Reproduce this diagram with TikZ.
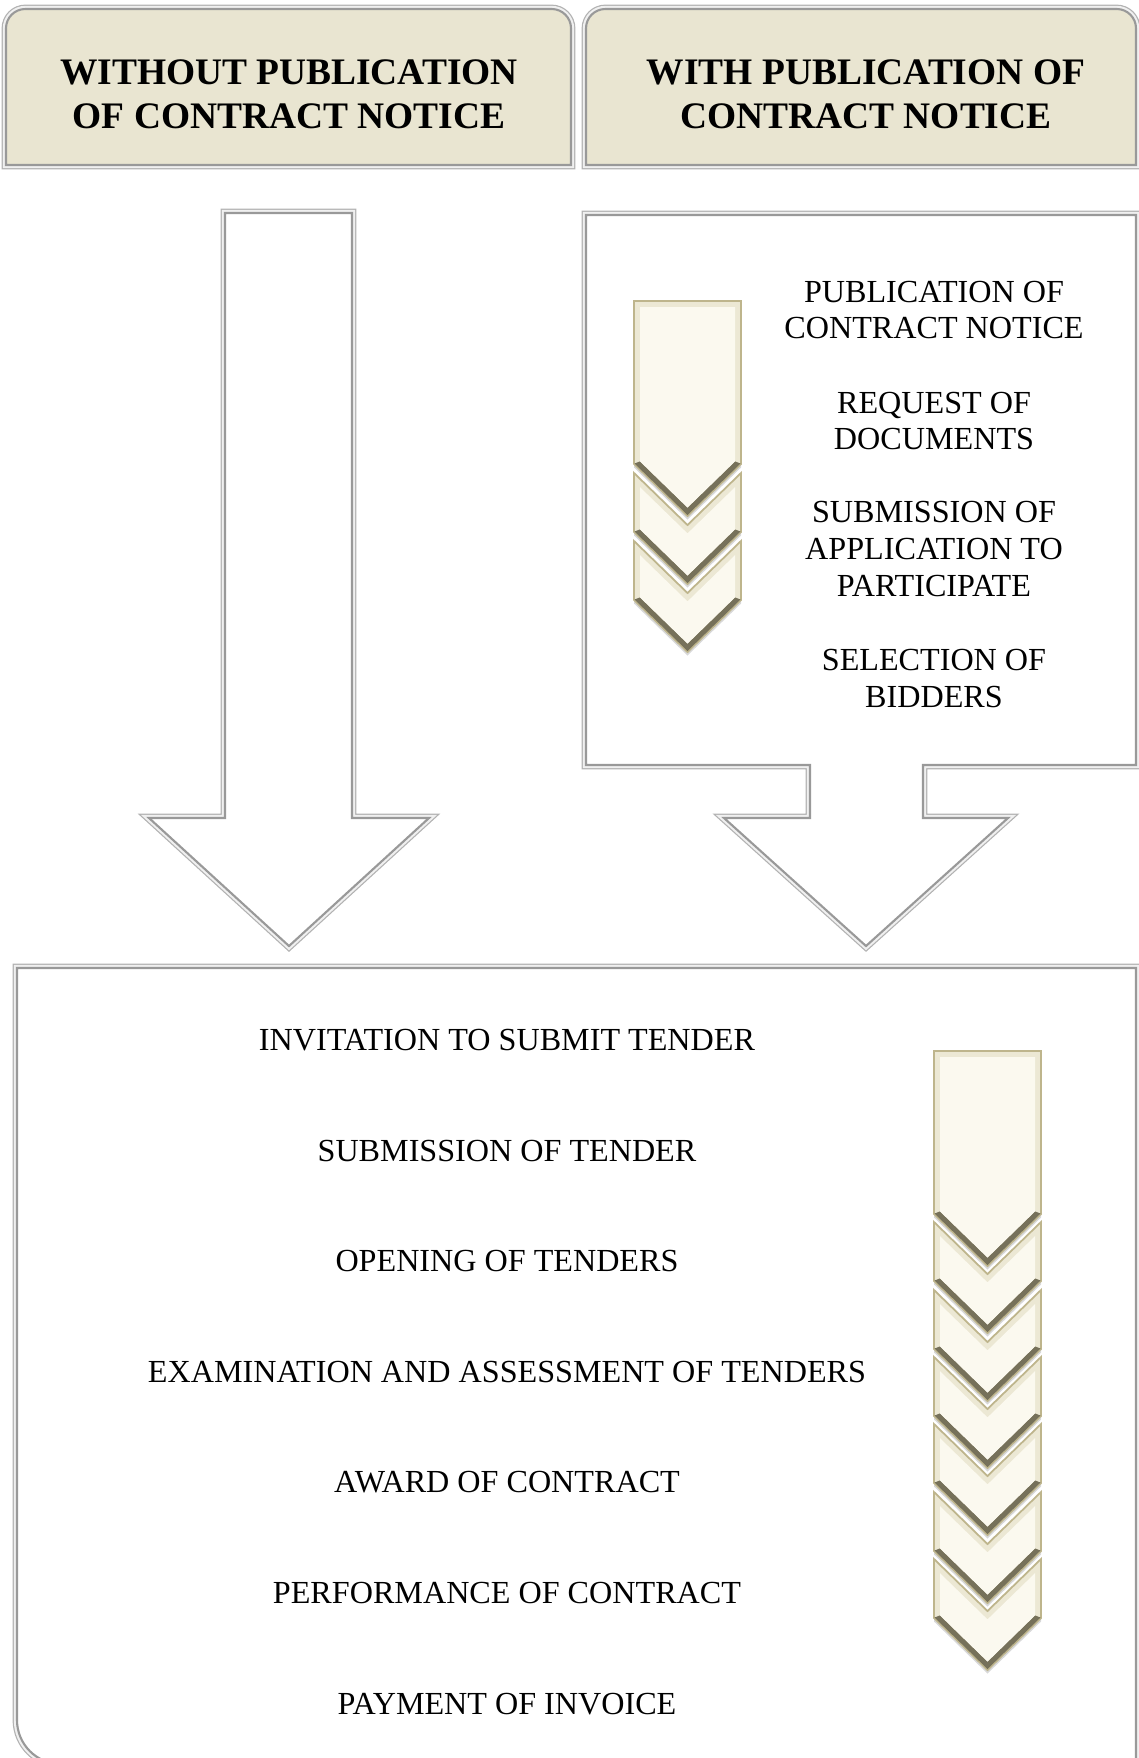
\documentclass[tikz,border=0pt]{standalone}
\usepackage{fontspec}
\setmainfont{Liberation Serif}
\usetikzlibrary{positioning,shadows}
\definecolor{headfill}{RGB}{233,229,209}
\definecolor{chevfill}{RGB}{251,249,239}
\definecolor{chevside}{RGB}{236,232,212}
\definecolor{chevedge}{RGB}{190,181,140}
\definecolor{chevdark}{RGB}{118,113,90}
\tikzset{
    bevel/.style={
           draw=gray!80,
           line width=1.2pt,
           preaction={draw=gray!60, line width=5pt},
           preaction={draw=gray!12, line width=3.6pt},
           },
    header/.style={
           font=\fontsize{21.3}{25}\selectfont\bfseries,
           align=center,
           },
    stage/.style={
           font=\fontsize{18.3}{21}\selectfont,
           align=center,
           },
    chevshadow/.style={
           drop shadow={opacity=0.3, shadow xshift=0pt, shadow yshift=-2pt},
           },
    chevron/.pic={
      \path[fill=chevside, draw=chevedge, line width=1pt, chevshadow] (-53.5,-111) -- (0,-59) -- (53.5,-111) -- (53.5,-52) -- (0,0) -- (-53.5,-52) -- cycle;
      \path[fill=chevdark] (-53,-52.5) -- (0,-1) -- (53,-52.5) -- (47.5,-54.6) -- (0,-8.4) -- (-47.5,-54.6) -- cycle;
      \path[fill=chevfill] (-47.5,-96.8) -- (0,-50.6) -- (47.5,-96.8) -- (47.5,-54.6) -- (0,-8.4) -- (-47.5,-54.6) -- cycle;
    },
    chevtop/.pic={
      \path[fill=chevside, draw=chevedge, line width=1pt, chevshadow] (-53.5,-215) -- (53.5,-215) -- (53.5,-52) -- (0,0) -- (-53.5,-52) -- cycle;
      \path[fill=chevdark] (-53,-52.5) -- (0,-1) -- (53,-52.5) -- (47.5,-54.6) -- (0,-8.4) -- (-47.5,-54.6) -- cycle;
      \path[fill=chevfill] (-47.5,-209) -- (47.5,-209) -- (47.5,-54.6) -- (0,-8.4) -- (-47.5,-54.6) -- cycle;
    },
}

\begin{document}
\begin{tikzpicture}[x=0.02cm,y=-0.02cm]
\useasboundingbox (0,0) rectangle (1139,1758);
\clip (0,0) rectangle (1139,1758);

 % the two headers
 \draw[bevel, fill=headfill] (6,165) [rounded corners=11pt] -- (6,9) -- (571,9) [sharp corners] -- (571,165) -- cycle;
 \draw[bevel, fill=headfill] (586,165) [rounded corners=11pt] -- (586,9) -- (1136,9) [sharp corners] -- (1136,165) -- cycle;

 \node[header] (NoPub) at (289,94) {WITHOUT PUBLICATION\\OF CONTRACT NOTICE};
 \node[header] (WithPub) at (866,94) {WITH PUBLICATION OF\\CONTRACT NOTICE};

 % big arrow on the left
 \draw[bevel, fill=white] (225,213) -- (352,213) -- (352,818) -- (429,818) -- (289,946) -- (149,818) -- (225,818) -- cycle;

 % box on the right, with its arrow
 \draw[bevel, fill=white] (586,215) -- (1136,215) -- (1136,765) -- (923,765) -- (923,818) -- (1008,818)
   -- (866,946) -- (724,818) -- (810,818) -- (810,765) -- (586,765) -- cycle;

 \pic at (687.5,516) {chevtop};
 \pic at (687.5,584) {chevron};
 \pic at (687.5,652) {chevron};

 \node[stage] (Notice) at (934,310) {PUBLICATION OF\\CONTRACT NOTICE};

 \node[stage,    	% layout (defined above)
  below of=Notice, 	% under the notice
  node distance=2.22cm,
  anchor=center] (Request)
  {REQUEST OF\\DOCUMENTS};

 \node[stage,
  below of=Request,
  node distance=2.56cm,
  anchor=center] (Apply)
  {SUBMISSION OF\\APPLICATION TO\\PARTICIPATE};

 \node[stage,
  below of=Apply,
  node distance=2.6cm,
  anchor=center] (Select)
  {SELECTION OF\\BIDDERS};

 % common box at the bottom
 \draw[bevel, fill=white] (1136,968) -- (17,968) [rounded corners=25pt] -- (17,1764) [sharp corners] -- (1136,1764) -- cycle;

 \pic at (987.5,1266) {chevtop};
 \pic at (987.5,1333) {chevron};
 \pic at (987.5,1401) {chevron};
 \pic at (987.5,1468) {chevron};
 \pic at (987.5,1535) {chevron};
 \pic at (987.5,1603) {chevron};
 \pic at (987.5,1670) {chevron};

 \node[stage] (Invite) at (507,1040) {INVITATION TO SUBMIT TENDER};

 \node[stage, below of=Invite, node distance=2.213cm, anchor=center] (Submit)
  {SUBMISSION OF TENDER};
 \node[stage, below of=Submit, node distance=2.213cm, anchor=center] (Opening)
  {OPENING OF TENDERS};
 \node[stage, below of=Opening, node distance=2.213cm, anchor=center] (Exam)
  {EXAMINATION AND ASSESSMENT OF TENDERS};
 \node[stage, below of=Exam, node distance=2.213cm, anchor=center] (Award)
  {AWARD OF CONTRACT};
 \node[stage, below of=Award, node distance=2.213cm, anchor=center] (Perform)
  {PERFORMANCE OF CONTRACT};
 \node[stage, below of=Perform, node distance=2.213cm, anchor=center] (Payment)
  {PAYMENT OF INVOICE};

\end{tikzpicture}
\end{document}
